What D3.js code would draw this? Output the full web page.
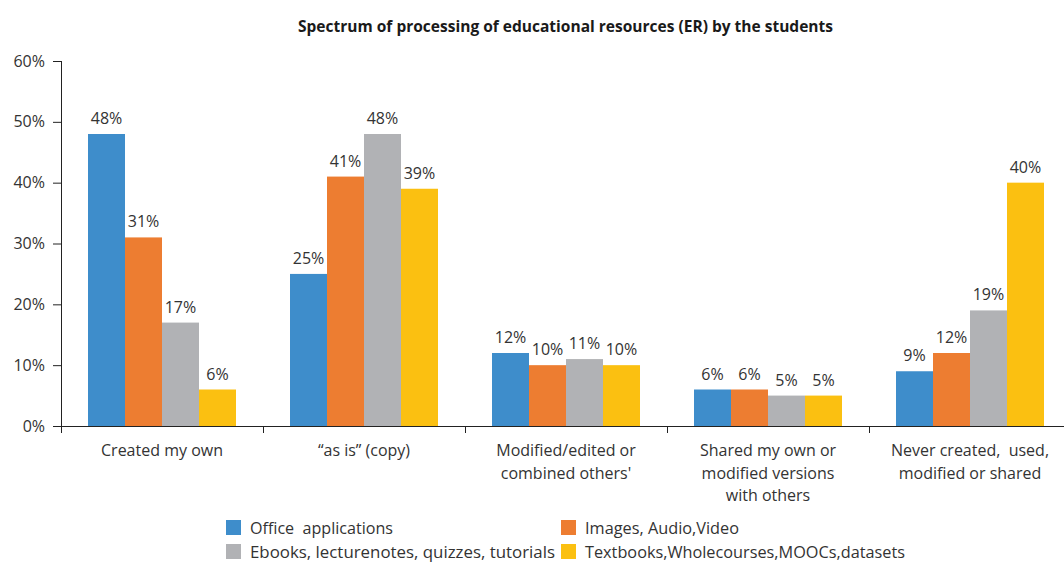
<!DOCTYPE html>
<html>
<head>
<meta charset="utf-8">
<script src="https://cdn.jsdelivr.net/npm/d3@7"></script>
<style>
  html, body { margin: 0; padding: 0; background: #fff; }
  svg { display: block; }
  text { font-family: "Open Sans", Lato, sans-serif; fill: #333; }
</style>
</head>
<body>
<svg id="chart" width="1064" height="563"></svg>
<script>
// Categories (multi-line labels split by "|")
const categories = [
  "Created my own",
  "\u201Cas is\u201D (copy)",
  "Modified/edited or|combined others'",
  "Shared my own or|modified versions|with others",
  "Never created,  used,|modified or shared"
];
const seriesNames = [
  "Office  applications",
  "Images, Audio,Video",
  "Ebooks, lecturenotes, quizzes, tutorials",
  "Textbooks,Wholecourses,MOOCs,datasets"
];
const officeApps   = [48, 25, 12, 6, 9];
const imagesAV     = [31, 41, 10, 6, 12];
const ebooks       = [17, 48, 11, 5, 19];
const textbooks    = [6, 39, 10, 5, 40];
const yTicks       = [0, 10, 20, 30, 40, 50, 60];
const colors       = ["#3e8dcb", "#ed7d31", "#b1b2b5", "#fbc011"];

const seriesValues = [officeApps, imagesAV, ebooks, textbooks];

const svg = d3.select("#chart");
const margin = { left: 61, top: 61, bottom: 426 };
const bandW = 202;

const x = d3.scaleBand()
  .domain(categories)
  .range([margin.left, margin.left + bandW * categories.length])
  .paddingInner(0).paddingOuter(0);

const xInner = d3.scaleBand()
  .domain(d3.range(seriesNames.length))
  .range([0, x.bandwidth()])
  .paddingOuter(0.73).paddingInner(0);

const y = d3.scaleLinear().domain([0, 60]).range([margin.bottom, margin.top]);

// Title
svg.append("text")
  .attr("x", 298).attr("y", 32)
  .attr("textLength", 535).attr("lengthAdjust", "spacingAndGlyphs")
  .style("font-weight", "bold").style("font-size", "16px").style("fill", "#1a1a1a")
  .text("Spectrum of processing of educational resources (ER) by the students");

// Bars
const groups = svg.append("g").selectAll("g")
  .data(seriesValues).join("g")
  .attr("fill", (d, i) => colors[i]);

groups.selectAll("rect")
  .data((vals, si) => vals.map((v, ci) => ({ v, ci, si })))
  .join("rect")
  .attr("x", d => x(categories[d.ci]) + xInner(d.si))
  .attr("width", xInner.bandwidth())
  .attr("y", d => y(d.v))
  .attr("height", d => y(0) - y(d.v));

// Value labels
groups.selectAll("text")
  .data((vals, si) => vals.map((v, ci) => ({ v, ci, si })))
  .join("text")
  .attr("x", d => x(categories[d.ci]) + xInner(d.si) + xInner.bandwidth() / 2)
  .attr("y", d => y(d.v) - 10)
  .attr("text-anchor", "middle")
  .style("font-size", "16px")
  .text(d => d.v + "%");

// Y axis
const yAxis = svg.append("g")
  .attr("transform", `translate(${margin.left},0)`)
  .call(d3.axisLeft(y).tickValues(yTicks).tickFormat(d => d + "%").tickSize(8).tickPadding(8));
yAxis.select(".domain").attr("stroke", "#222").attr("d", `M0.5,${margin.top}V${margin.bottom + 7}`);
yAxis.selectAll(".tick line").attr("stroke", "#222");
yAxis.selectAll(".tick text").style("font-size", "16px").style("fill", "#333")
  .style("font-family", "'Open Sans', Lato, sans-serif");

// X axis baseline and category boundary ticks
const xAxis = svg.append("g")
  .attr("transform", `translate(0,${margin.bottom})`);
xAxis.append("path")
  .attr("fill", "none").attr("stroke", "#222")
  .attr("d", `M${margin.left},0.5H1064`);

const boundaries = d3.range(1, categories.length).map(i => margin.left + i * bandW);
xAxis.selectAll("line.cat")
  .data(boundaries).join("line")
  .attr("class", "cat")
  .attr("x1", d => d + 0.5).attr("x2", d => d + 0.5)
  .attr("y1", 0).attr("y2", 7)
  .attr("stroke", "#222");

// Category labels
const catLabels = svg.append("g").selectAll("text")
  .data(categories).join("text")
  .attr("x", d => x(d) + x.bandwidth() / 2)
  .attr("y", 456)
  .attr("text-anchor", "middle")
  .style("font-size", "16px");
catLabels.selectAll("tspan")
  .data(d => d.split("|")).join("tspan")
  .attr("x", function () { return d3.select(this.parentNode).attr("x"); })
  .attr("dy", (d, i) => i === 0 ? 0 : 22.5)
  .style("white-space", "pre")
  .text(d => d);

// Legend (two rows, two columns)
const legendPos = [
  { x: 226, y: 528 }, { x: 561, y: 528 },
  { x: 226, y: 552 }, { x: 561, y: 552 }
];
const legendWidths = [143, 154, 305, 320];
const legend = svg.append("g").selectAll("g")
  .data(seriesNames).join("g")
  .attr("transform", (d, i) => `translate(${legendPos[i].x},${legendPos[i].y})`);
legend.append("rect")
  .attr("x", 0).attr("y", -8).attr("width", 15).attr("height", 15)
  .attr("fill", (d, i) => colors[i]);
legend.append("text")
  .attr("x", 24).attr("y", 6)
  .attr("textLength", (d, i) => legendWidths[i])
  .attr("lengthAdjust", "spacingAndGlyphs")
  .style("font-size", "17px")
  .style("white-space", "pre")
  .text(d => d);
</script>
</body>
</html>
